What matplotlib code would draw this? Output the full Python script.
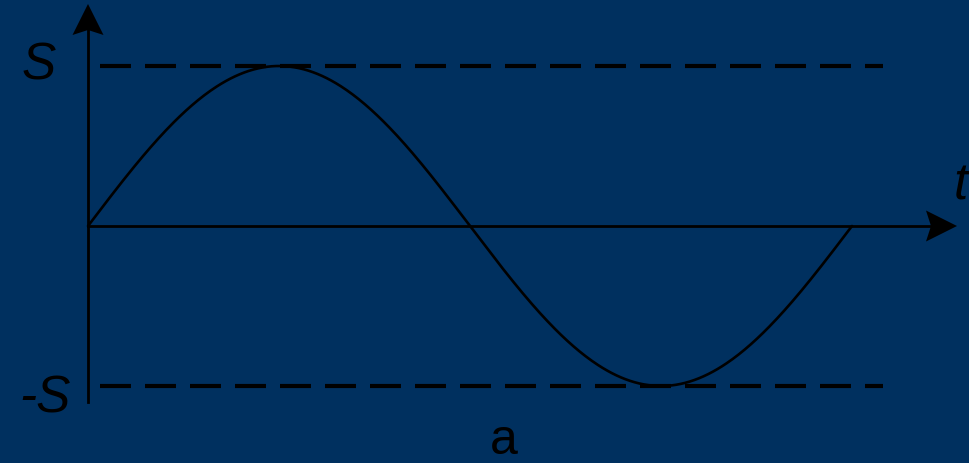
import numpy as np
import matplotlib
matplotlib.use('Agg')
import matplotlib.pyplot as plt
from matplotlib.patches import Polygon

# sine signal with amplitude S over one period
amplitude = 1.0
period = 2 * np.pi
t = np.linspace(0, period, 500)
s = amplitude * np.sin(t)

level_labels = ['S', '-S']
axis_label = 't'
caption = 'a'

bg = '#00305f'
W, H = 970, 463
xs = 764 / period   # pixels per unit of t
ys = 160 / amplitude  # pixels per unit of s
x0, y0 = 88, 226     # origin in pixels

fig = plt.figure(figsize=(W / 100, H / 100), dpi=100, facecolor=bg)
ax = fig.add_axes([0, 0, 1, 1])
ax.set_facecolor(bg)
ax.set_xlim(-x0 / xs, (W - x0) / xs)
ax.set_ylim(-(H - y0) / ys, y0 / ys)
ax.axis('off')

plt.rcParams['lines.scale_dashes'] = False

# the curve
ax.plot(t, s, color='black', lw=1.9, solid_capstyle='round')

# dashed levels at +S and -S
for lev in (amplitude, -amplitude):
    ax.plot([12 / xs, 795 / xs], [lev, lev], color='black', lw=3.0,
            dashes=(22.3, 10.1), dash_capstyle='butt')


def arrow_head(tip_x, tip_y, direction):
    # notched arrow head, sizes in pixels
    L, w, notch = 31, 15.5, 26
    if direction == 'up':
        pts = [(0, 0), (-w, -L), (0, -notch), (w, -L)]
    else:
        pts = [(0, 0), (-L, w), (-notch, 0), (-L, -w)]
    pts = [(tip_x + px / xs, tip_y + py / ys) for px, py in pts]
    ax.add_patch(Polygon(pts, closed=True, color='black', lw=0))


# axes with arrows
ax.plot([0, 0], [-176 / ys, 200 / ys], color='black', lw=2.0)
arrow_head(0, 222 / ys, 'up')
ax.plot([0, 850 / xs], [0, 0], color='black', lw=2.0)
arrow_head(869 / xs, 0, 'right')

font = 'Liberation Sans'
ax.text(-49 / xs, amplitude, level_labels[0], fontsize=37, style='italic',
        family=font, ha='center', va='center', color='black')
ax.text(-43 / xs, -amplitude - 0.08, level_labels[1], fontsize=37, style='italic',
        family=font, ha='center', va='center', color='black')
ax.text(873 / xs, 40 / ys, axis_label, fontsize=37, style='italic',
        family=font, ha='center', va='center', color='black')
ax.text(416 / xs, -215 / ys, caption, fontsize=36,
        family=font, ha='center', va='center', color='black')

fig.savefig('out.png', dpi=100, facecolor=bg)
